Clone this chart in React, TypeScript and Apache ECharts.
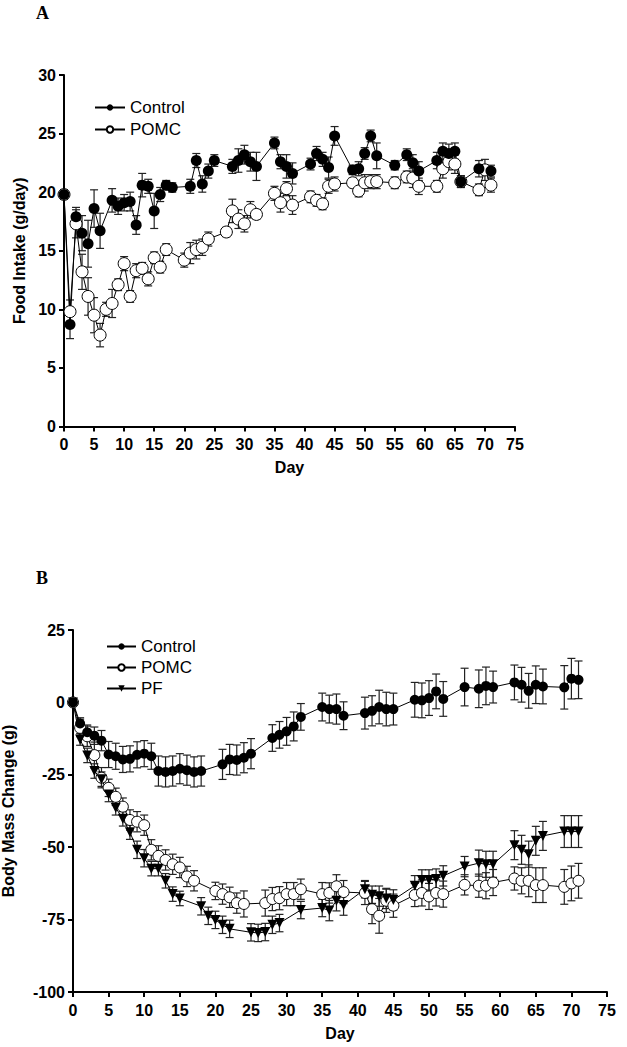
import React, { useEffect, useRef } from "react";
import * as echarts from "echarts";

// ---------- Panel A: Food intake (g/day) ----------
const aCtrlDays = [0,1,2,3,4,5,6,8,9,10,11,12,13,14,15,16,17,18,21,22,23,24,25,28,29,30,31,32,35,36,37,38,41,42,43,44,45,48,49,50,51,52,55,57,58,59,62,63,64,65,66,69,71];
const aCtrlVals = [19.8,8.7,17.9,16.5,15.6,18.6,16.7,19.3,18.8,19.1,19.2,17.2,20.6,20.5,18.4,19.8,20.6,20.4,20.5,22.7,20.7,21.8,22.7,22.2,22.7,23.2,22.6,22.2,24.2,22.6,22.2,21.6,22.4,23.3,22.8,22.1,24.8,21.9,22.0,23.3,24.8,23.1,22.3,23.2,22.5,21.8,22.7,23.5,23.3,23.5,20.9,22.0,21.8];
const aCtrlErr = [0.4,1.2,0.8,1.5,2.0,1.6,1.5,1.0,0.7,0.7,0.8,0.8,1.0,0.6,1.5,0.6,0.4,0.4,0.6,0.6,0.7,0.6,0.5,0.6,1.0,0.8,0.8,1.2,0.5,0.6,1.0,0.9,0.5,0.6,0.6,0.9,0.8,0.4,0.6,0.5,0.5,1.1,0.4,0.5,0.7,0.8,0.7,0.7,0.8,0.7,0.5,0.7,0.5];

const aPomcDays = [0,1,2,3,4,5,6,7,8,9,10,11,12,13,14,15,16,17,20,21,22,23,24,27,28,29,30,31,32,35,36,37,38,41,42,43,44,45,48,49,50,51,52,55,57,58,59,62,63,64,65,66,69,70,71];
const aPomcVals = [19.8,9.8,17.3,13.2,11.1,9.5,7.8,10.0,10.5,12.1,13.9,11.1,13.3,13.5,12.6,14.4,13.6,15.1,14.2,14.8,15.1,15.3,16.0,16.6,18.4,17.7,17.3,18.5,18.1,19.9,19.1,20.3,18.9,19.6,19.3,19.0,20.5,20.7,20.8,20.1,20.8,20.9,20.9,20.8,21.3,21.2,20.5,20.5,22.0,22.6,22.4,20.9,20.2,21.9,20.6];
const aPomcErr = [0.4,1.0,1.2,1.5,1.6,1.5,1.0,0.6,1.2,0.5,0.6,0.5,0.6,0.5,0.6,0.5,0.5,0.5,0.6,0.9,0.8,0.7,0.6,0.4,1.0,0.8,0.7,0.7,0.4,0.6,0.8,0.6,0.8,0.5,0.5,0.5,0.6,0.6,0.4,0.5,0.7,0.6,0.6,0.5,0.5,0.8,0.7,0.5,0.8,0.7,0.8,0.5,0.5,0.9,0.6];

// ---------- Panel B: Body mass change (g) ----------
const bCtrlDays = [0,1,2,3,4,5,6,7,8,9,10,11,12,13,14,15,16,17,18,21,22,23,24,25,28,29,30,31,32,35,36,37,38,41,42,43,44,45,48,49,50,51,52,55,57,58,59,62,63,64,65,66,69,70,71];
const bCtrlVals = [0,-7.3,-10.3,-11.5,-13.2,-18.0,-18.6,-19.7,-19.5,-18.1,-17.7,-18.6,-23.7,-24.0,-23.7,-22.9,-23.4,-24.0,-23.7,-21.4,-19.7,-19.9,-19.1,-17.7,-12.3,-11.2,-10.0,-8.3,-5.0,-1.6,-2.3,-2.3,-4.6,-3.7,-2.9,-1.6,-2.3,-2.3,0.9,0.7,1.5,3.8,1.2,5.3,4.7,5.7,5.3,6.9,6.1,4.0,6.1,5.5,5.2,8.2,7.8];
const bCtrlErr = [0.5,2.0,2.5,3.0,3.5,4.5,4.5,4.5,4.5,4.5,4.5,4.5,5.2,5.2,5.2,5.2,5.2,5.2,5.2,5.2,5.2,5.2,5.2,5.2,4.6,4.6,4.8,5.0,4.6,4.8,4.8,5.2,4.8,5.5,5.2,5.8,5.8,5.5,6.0,6.0,6.0,6.0,6.0,6.5,6.5,6.5,5.5,6.0,6.0,6.0,6.5,6.0,7.5,7.0,6.5];

const bPomcDays = [0,1,2,3,4,5,6,7,8,9,10,11,12,13,14,15,16,17,20,21,22,23,24,27,28,29,30,31,32,35,36,37,38,41,42,43,44,45,48,49,50,51,52,55,57,58,59,62,63,64,65,66,69,70,71];
const bPomcVals = [0,-8.8,-11.7,-18.2,-26.0,-29.5,-32.6,-36.0,-40.6,-41.2,-42.4,-50.9,-53.0,-54.4,-55.9,-57.0,-60.1,-61.6,-65.1,-66.2,-67.3,-69.3,-69.6,-69.3,-67.9,-67.6,-66.2,-66.2,-64.5,-66.2,-65.8,-63.5,-65.5,-65.8,-71.4,-73.7,-68.5,-70.2,-66.5,-65.8,-67.0,-65.8,-66.2,-63.0,-63.3,-63.3,-62.2,-60.8,-61.6,-61.6,-63.1,-63.1,-63.7,-62.5,-61.6];
const bPomcErr = [0.5,3.0,3.5,4.5,3.5,3.0,3.0,3.0,3.5,3.5,3.5,3.5,3.5,3.5,3.5,3.5,3.5,3.5,3.0,3.5,3.5,3.5,4.5,4.5,4.0,4.0,4.0,4.0,3.5,4.0,3.5,4.0,4.0,4.0,5.0,6.0,4.0,4.0,4.0,4.5,4.5,4.5,4.5,3.5,4.0,4.5,4.5,4.0,4.5,5.5,6.0,6.0,6.0,6.0,6.0];

const bPfDays = [0,1,2,3,4,5,6,7,8,9,10,11,12,13,14,15,18,19,20,21,22,25,26,27,28,29,32,35,36,37,38,41,42,43,44,45,48,49,50,51,52,55,57,58,59,62,63,64,65,66,69,70,71];
const bPfVals = [0,-12.8,-18.3,-23.7,-26.5,-31.8,-36.4,-40.2,-44.8,-50.9,-53.8,-57.4,-57.4,-61.6,-66.2,-67.7,-70.4,-73.7,-75.1,-76.8,-78.2,-79.4,-79.6,-79.3,-76.8,-76.2,-71.7,-71.0,-71.9,-68.5,-70.0,-64.5,-66.4,-66.9,-67.7,-68.2,-63.3,-61.3,-61.3,-61.0,-59.9,-56.7,-55.5,-55.9,-55.9,-49.3,-50.9,-52.4,-47.8,-46.1,-44.6,-44.6,-44.6];
const bPfErr = [0.5,2.0,2.5,2.5,2.5,2.5,2.5,2.5,2.5,3.0,3.0,2.5,2.5,2.5,2.5,2.5,3.0,3.0,3.0,3.0,3.0,3.0,3.0,3.0,3.0,3.0,3.0,3.0,3.5,3.5,3.5,3.0,3.0,3.5,3.5,3.5,3.5,3.5,3.5,3.5,3.5,3.5,4.5,4.5,4.5,5.0,5.0,4.5,5.0,5.0,5.5,5.5,5.5];

const xTicks = { min: 0, max: 75, interval: 5 };
const aYTicks = { min: 0, max: 30, interval: 5 };
const bYTicks = { min: -100, max: 25, interval: 25 };

const zip = (d: number[], v: number[]) => d.map((x, i) => [x, v[i]]);
const zip3 = (d: number[], v: number[], e: number[]) => d.map((x, i) => [x, v[i], e[i]]);

const FONT = "Liberation Sans, Arial, Helvetica, sans-serif";
const BLACK = "#000";

function errorSeries(name: string, gi: number, data: number[][]) {
  return {
    type: "custom",
    name,
    xAxisIndex: gi,
    yAxisIndex: gi,
    z: 1,
    silent: true,
    data,
    renderItem: (params: any, api: any) => {
      const x = api.value(0), y = api.value(1), e = api.value(2);
      const top = api.coord([x, y + e]);
      const bot = api.coord([x, y - e]);
      const hw = 4;
      const st = { stroke: "#222", lineWidth: 1.2 };
      return {
        type: "group",
        children: [
          { type: "line", shape: { x1: top[0], y1: top[1], x2: bot[0], y2: bot[1] }, style: st },
          { type: "line", shape: { x1: top[0] - hw, y1: top[1], x2: top[0] + hw, y2: top[1] }, style: st },
          { type: "line", shape: { x1: bot[0] - hw, y1: bot[1], x2: bot[0] + hw, y2: bot[1] }, style: st },
        ],
      };
    },
  };
}

function lineSeries(name: string, gi: number, data: number[][], kind: "filled" | "open" | "tri", size: number) {
  const symbol = kind === "tri" ? "triangle" : "circle";
  return {
    type: "line",
    name,
    xAxisIndex: gi,
    yAxisIndex: gi,
    z: 3,
    data,
    symbol,
    symbolRotate: kind === "tri" ? 180 : 0,
    symbolSize: size,
    showAllSymbol: true,
    lineStyle: { color: BLACK, width: 1 },
    itemStyle: {
      color: kind === "open" ? "#fff" : BLACK,
      borderColor: BLACK,
      borderWidth: kind === "open" ? 1 : 0,
    },
  };
}

function xAxis(gi: number) {
  return {
    type: "value",
    gridIndex: gi,
    ...xTicks,
    name: "Day",
    nameLocation: "middle",
    nameGap: 33,
    nameTextStyle: { fontFamily: FONT, fontWeight: "bold", fontSize: 16, color: BLACK },
    axisLine: { show: true, onZero: false, lineStyle: { color: BLACK, width: 2 } },
    axisTick: { show: true, length: 5, lineStyle: { color: BLACK, width: 2 } },
    axisLabel: { margin: 10, fontFamily: FONT, fontWeight: "bold", fontSize: 16, color: BLACK },
    splitLine: { show: false },
  };
}

function yAxis(gi: number, ticks: any, name: string, gap: number) {
  return {
    type: "value",
    gridIndex: gi,
    ...ticks,
    name,
    nameLocation: "middle",
    nameRotate: 90,
    nameGap: gap,
    nameTextStyle: { fontFamily: FONT, fontWeight: "bold", fontSize: 16, color: BLACK },
    axisLine: { show: true, onZero: false, lineStyle: { color: BLACK, width: 2 } },
    axisTick: { show: true, length: 5, lineStyle: { color: BLACK, width: 2 } },
    axisLabel: { margin: 8, fontFamily: FONT, fontWeight: "bold", fontSize: 16, color: BLACK },
    splitLine: { show: false },
  };
}

export default function App() {
  const ref = useRef<HTMLDivElement>(null);
  useEffect(() => {
    if (!ref.current) return;
    const chart = echarts.init(ref.current, undefined, { renderer: "svg" });
    const legendText = { fontFamily: FONT, fontSize: 17, color: BLACK };
    chart.setOption({
      animation: false,
      backgroundColor: "#fff",
      grid: [
        { left: 64, top: 75, width: 451, height: 351.5, outerBoundsMode: "none", containLabel: false },
        { left: 73, top: 630, width: 534, height: 362, outerBoundsMode: "none", containLabel: false },
      ],
      xAxis: [xAxis(0), xAxis(1)],
      yAxis: [
        yAxis(0, aYTicks, "Food Intake (g/day)", 31),
        yAxis(1, bYTicks, "Body Mass Change (g)", 57),
      ],
      legend: [
        {
          data: ["Control", "POMC"],
          orient: "vertical",
          left: 89,
          top: 94,
          itemWidth: 30,
          itemHeight: 8,
          itemGap: 5,
          textStyle: legendText,
          selectedMode: false,
        },
        {
          data: ["Control", "POMC", "PF"],
          orient: "vertical",
          left: 101,
          top: 633,
          itemWidth: 29,
          itemHeight: 8,
          itemGap: 4,
          textStyle: legendText,
          selectedMode: false,
        },
      ],
      graphic: [
        { type: "text", left: 36, top: 4, style: { text: "A", font: "bold 18px 'Liberation Serif', 'Times New Roman', serif", fill: BLACK } },
        { type: "text", left: 36, top: 569, style: { text: "B", font: "bold 18px 'Liberation Serif', 'Times New Roman', serif", fill: BLACK } },
      ],
      series: [
        errorSeries("errACtrl", 0, zip3(aCtrlDays, aCtrlVals, aCtrlErr)),
        errorSeries("errAPomc", 0, zip3(aPomcDays, aPomcVals, aPomcErr)),
        lineSeries("POMC", 0, zip(aPomcDays, aPomcVals), "open", 12),
        lineSeries("Control", 0, zip(aCtrlDays, aCtrlVals), "filled", 11),
        errorSeries("errBCtrl", 1, zip3(bCtrlDays, bCtrlVals, bCtrlErr)),
        errorSeries("errBPomc", 1, zip3(bPomcDays, bPomcVals, bPomcErr)),
        errorSeries("errBPf", 1, zip3(bPfDays, bPfVals, bPfErr)),
        lineSeries("POMC", 1, zip(bPomcDays, bPomcVals), "open", 11),
        lineSeries("PF", 1, zip(bPfDays, bPfVals), "tri", 10),
        lineSeries("Control", 1, zip(bCtrlDays, bCtrlVals), "filled", 10),
      ],
    });
    return () => chart.dispose();
  }, []);
  return (
    <div
      ref={ref}
      style={{ position: "absolute", left: 0, top: 0, width: 627, height: 1047, background: "#fff" }}
    />
  );
}
